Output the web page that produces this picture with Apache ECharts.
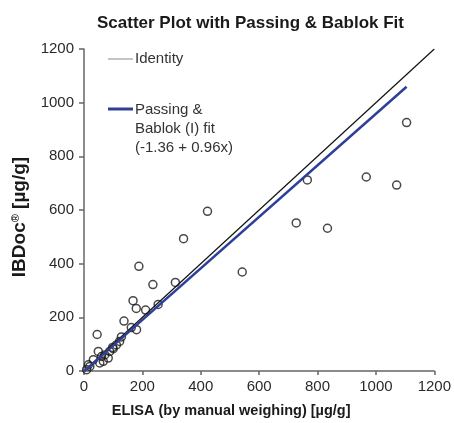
<!DOCTYPE html>
<html><head><meta charset="utf-8">
<script src="https://cdn.jsdelivr.net/npm/echarts@6/dist/echarts.min.js"></script>
<style>html,body{margin:0;padding:0;background:#fff}#c{width:454px;height:423px}</style>
</head><body><div id="c"></div>
<script>
// ELISA (x) vs IBDoc (y), µg/g
const elisa = [1105, 423, 542, 727, 765, 834, 967, 1071, 341, 188, 236, 313, 168, 179, 211, 254, 137, 162, 180, 45, 128,
               122, 100, 88, 71, 60, 49, 32, 15, 66, 83, 9, 20, 54, 98, 111];
const ibdoc = [926, 595, 369, 552, 712, 532, 723, 693, 493, 390, 322, 330, 262, 233, 227, 248, 186, 162, 154, 136, 127,
               110, 83, 73, 60, 54, 73, 42, 23, 36, 48, 5, 17, 30, 88, 97];
const identityX = [0, 1200];
const identityY = [0, 1200];
const fitX = [0, 1105];
const fitY = [-1.36, 1059.4];
const axisTicks = [0, 200, 400, 600, 800, 1000, 1200];

const pairs = (xs, ys) => xs.map((x, i) => [x, ys[i]]);
const FONT = 'Liberation Sans, Arial, sans-serif';
const plain = v => String(v);

const chart = echarts.init(document.getElementById('c'), null, {renderer: 'canvas'});
chart.setOption({
  animation: false,
  backgroundColor: '#fff',
  title: {
    text: 'Scatter Plot with Passing & Bablok Fit',
    left: 92, top: 10,
    textStyle: {fontFamily: FONT, fontSize: 17, fontWeight: 'bold', color: '#1a1a1a'}
  },
  grid: {left: 84, right: 17, top: 49, bottom: 50, containLabel: false},
  xAxis: {
    type: 'value', min: axisTicks[0], max: axisTicks[axisTicks.length - 1], interval: 200,
    name: 'ELISA (by manual weighing) [µg/g]',
    nameLocation: 'middle', nameGap: 32,
    nameTextStyle: {fontFamily: FONT, fontSize: 14.5, fontWeight: 'bold', color: '#1a1a1a', padding: [0, 56, 0, 0]},
    axisLine: {lineStyle: {color: '#666', width: 1.5}},
    axisTick: {show: true, inside: false, length: 4, lineStyle: {color: '#666', width: 1.5}},
    axisLabel: {fontFamily: FONT, fontSize: 15, color: '#2a2a2a', margin: 8, formatter: plain},
    splitLine: {show: false}
  },
  yAxis: {
    type: 'value', min: axisTicks[0], max: axisTicks[axisTicks.length - 1], interval: 200,
    name: '{b|IBDoc}{s|®}{b| [µg/g]}',
    nameLocation: 'middle', nameGap: 47, nameRotate: 90,
    nameTextStyle: {
      fontFamily: FONT, fontSize: 19, fontWeight: 'bold', color: '#1a1a1a', padding: [0, 14, 0, 0],
      rich: {
        b: {fontFamily: FONT, fontSize: 19, fontWeight: 'bold', color: '#1a1a1a'},
        s: {fontFamily: FONT, fontSize: 11, fontWeight: 'bold', color: '#1a1a1a', verticalAlign: 'top', padding: [0, 0, 8, 0]}
      }
    },
    axisLine: {show: true, lineStyle: {color: '#666', width: 1.5}},
    axisTick: {show: true, inside: false, length: 5, lineStyle: {color: '#666', width: 1.5}},
    axisLabel: {fontFamily: FONT, fontSize: 15, color: '#2a2a2a', margin: 10, formatter: plain},
    splitLine: {show: false}
  },
  series: [
    {
      name: 'Data', type: 'scatter', data: pairs(elisa, ibdoc),
      symbol: 'circle', symbolSize: 8, z: 2,
      itemStyle: {color: 'rgba(255,255,255,0)', borderColor: '#1a1a1a', borderWidth: 1.5}
    },
    {
      name: 'Identity', type: 'line', data: pairs(identityX, identityY),
      symbol: 'none', z: 3, lineStyle: {color: '#111', width: 1.2}
    },
    {
      name: 'Passing & Bablok (I) fit', type: 'line', data: pairs(fitX, fitY),
      symbol: 'none', z: 4, lineStyle: {color: '#2e3f99', width: 2.5}
    }
  ],
  graphic: [
    {type: 'line', shape: {x1: 108, y1: 59, x2: 133, y2: 59}, style: {stroke: '#8a8a8a', lineWidth: 1}},
    {type: 'text', x: 135, y: 59, style: {text: 'Identity', font: '15px ' + FONT, fill: '#333', verticalAlign: 'middle'}},
    {type: 'line', shape: {x1: 108, y1: 109, x2: 133, y2: 109}, style: {stroke: '#2e3f99', lineWidth: 3}},
    {type: 'text', x: 135, y: 100, style: {text: 'Passing &\nBablok (I) fit\n(-1.36 + 0.96x)', font: '15px ' + FONT, fill: '#333', verticalAlign: 'top', lineHeight: 19}}
  ]
});
</script>
</body></html>
